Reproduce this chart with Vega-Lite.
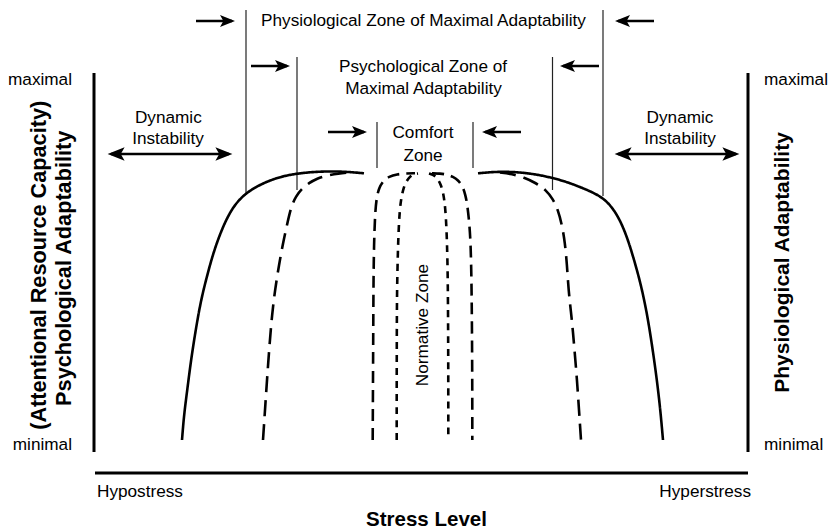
{
  "$schema": "https://vega.github.io/schema/vega-lite/v6.json",
  "width": 829,
  "height": 528,
  "padding": 0,
  "autosize": {"type": "none"},
  "background": "white",
  "config": {"view": {"stroke": null}, "font": "Liberation Sans"},
  "datasets": {
    "frame": [
      {"part": "left axis", "x": 94, "x2": 94, "y": 73, "y2": 452},
      {"part": "right axis", "x": 748, "x2": 748, "y": 73, "y2": 452},
      {"part": "stress axis", "x": 95, "x2": 748, "y": 473, "y2": 473}
    ],
    "zones": [
      {"zone": "physiological", "x": 246, "y": 10, "y2": 195},
      {"zone": "physiological", "x": 603, "y": 10, "y2": 196},
      {"zone": "psychological", "x": 297, "y": 57, "y2": 190},
      {"zone": "psychological", "x": 552.5, "y": 57, "y2": 190},
      {"zone": "comfort", "x": 377, "y": 122, "y2": 168},
      {"zone": "comfort", "x": 473, "y": 122, "y2": 168}
    ],
    "arrows": [
      {"kind": "single", "dir": "right", "x": 196, "x2": 232, "y": 21},
      {"kind": "single", "dir": "left", "x": 654, "x2": 618, "y": 21},
      {"kind": "single", "dir": "right", "x": 251, "x2": 287, "y": 66},
      {"kind": "single", "dir": "left", "x": 599, "x2": 563, "y": 66},
      {"kind": "single", "dir": "right", "x": 328, "x2": 364, "y": 132},
      {"kind": "single", "dir": "left", "x": 521, "x2": 485, "y": 132},
      {"kind": "double", "dir": "left", "x": 170, "x2": 111, "y": 154},
      {"kind": "double", "dir": "right", "x": 170, "x2": 229, "y": 154},
      {"kind": "double", "dir": "left", "x": 677, "x2": 618, "y": 154},
      {"kind": "double", "dir": "right", "x": 677, "x2": 736, "y": 154}
    ],
    "curves": [
      {"curve": "physiological-L", "zone": "physiological", "order": 1, "x": 182, "y": 440},
      {"curve": "physiological-L", "zone": "physiological", "order": 2, "x": 184, "y": 415},
      {"curve": "physiological-L", "zone": "physiological", "order": 3, "x": 187, "y": 392},
      {"curve": "physiological-L", "zone": "physiological", "order": 4, "x": 191, "y": 360},
      {"curve": "physiological-L", "zone": "physiological", "order": 5, "x": 196, "y": 328},
      {"curve": "physiological-L", "zone": "physiological", "order": 6, "x": 201, "y": 300},
      {"curve": "physiological-L", "zone": "physiological", "order": 7, "x": 207, "y": 276},
      {"curve": "physiological-L", "zone": "physiological", "order": 8, "x": 213, "y": 254},
      {"curve": "physiological-L", "zone": "physiological", "order": 9, "x": 220, "y": 234},
      {"curve": "physiological-L", "zone": "physiological", "order": 10, "x": 227, "y": 218},
      {"curve": "physiological-L", "zone": "physiological", "order": 11, "x": 234, "y": 206},
      {"curve": "physiological-L", "zone": "physiological", "order": 12, "x": 241, "y": 198},
      {"curve": "physiological-L", "zone": "physiological", "order": 13, "x": 248, "y": 192},
      {"curve": "physiological-L", "zone": "physiological", "order": 14, "x": 256, "y": 187},
      {"curve": "physiological-L", "zone": "physiological", "order": 15, "x": 265, "y": 182.5},
      {"curve": "physiological-L", "zone": "physiological", "order": 16, "x": 274, "y": 179},
      {"curve": "physiological-L", "zone": "physiological", "order": 17, "x": 284, "y": 176},
      {"curve": "physiological-L", "zone": "physiological", "order": 18, "x": 297, "y": 173.5},
      {"curve": "physiological-L", "zone": "physiological", "order": 19, "x": 315, "y": 171.8},
      {"curve": "physiological-L", "zone": "physiological", "order": 20, "x": 330, "y": 171.3},
      {"curve": "physiological-L", "zone": "physiological", "order": 21, "x": 348, "y": 171.8},
      {"curve": "physiological-L", "zone": "physiological", "order": 22, "x": 364, "y": 173.3},

      {"curve": "physiological-R", "zone": "physiological", "order": 1, "x": 478, "y": 173.3},
      {"curve": "physiological-R", "zone": "physiological", "order": 2, "x": 492, "y": 172},
      {"curve": "physiological-R", "zone": "physiological", "order": 3, "x": 505, "y": 171.7},
      {"curve": "physiological-R", "zone": "physiological", "order": 4, "x": 520, "y": 172.3},
      {"curve": "physiological-R", "zone": "physiological", "order": 5, "x": 537, "y": 174.5},
      {"curve": "physiological-R", "zone": "physiological", "order": 6, "x": 553, "y": 178},
      {"curve": "physiological-R", "zone": "physiological", "order": 7, "x": 567, "y": 182},
      {"curve": "physiological-R", "zone": "physiological", "order": 8, "x": 580, "y": 187},
      {"curve": "physiological-R", "zone": "physiological", "order": 9, "x": 592, "y": 192},
      {"curve": "physiological-R", "zone": "physiological", "order": 10, "x": 603, "y": 198},
      {"curve": "physiological-R", "zone": "physiological", "order": 11, "x": 612, "y": 207},
      {"curve": "physiological-R", "zone": "physiological", "order": 12, "x": 620, "y": 220},
      {"curve": "physiological-R", "zone": "physiological", "order": 13, "x": 627, "y": 237},
      {"curve": "physiological-R", "zone": "physiological", "order": 14, "x": 633, "y": 256},
      {"curve": "physiological-R", "zone": "physiological", "order": 15, "x": 640, "y": 281},
      {"curve": "physiological-R", "zone": "physiological", "order": 16, "x": 646, "y": 308},
      {"curve": "physiological-R", "zone": "physiological", "order": 17, "x": 651, "y": 338},
      {"curve": "physiological-R", "zone": "physiological", "order": 18, "x": 656, "y": 373},
      {"curve": "physiological-R", "zone": "physiological", "order": 19, "x": 660, "y": 406},
      {"curve": "physiological-R", "zone": "physiological", "order": 20, "x": 663, "y": 440},

      {"curve": "psychological-L", "zone": "psychological", "order": 1, "x": 263, "y": 440},
      {"curve": "psychological-L", "zone": "psychological", "order": 2, "x": 265, "y": 410},
      {"curve": "psychological-L", "zone": "psychological", "order": 3, "x": 267, "y": 380},
      {"curve": "psychological-L", "zone": "psychological", "order": 4, "x": 269.5, "y": 345},
      {"curve": "psychological-L", "zone": "psychological", "order": 5, "x": 272, "y": 315},
      {"curve": "psychological-L", "zone": "psychological", "order": 6, "x": 275, "y": 290},
      {"curve": "psychological-L", "zone": "psychological", "order": 7, "x": 279, "y": 265},
      {"curve": "psychological-L", "zone": "psychological", "order": 8, "x": 283, "y": 243},
      {"curve": "psychological-L", "zone": "psychological", "order": 9, "x": 287, "y": 225},
      {"curve": "psychological-L", "zone": "psychological", "order": 10, "x": 291, "y": 207},
      {"curve": "psychological-L", "zone": "psychological", "order": 11, "x": 296, "y": 196},
      {"curve": "psychological-L", "zone": "psychological", "order": 12, "x": 302, "y": 188.5},
      {"curve": "psychological-L", "zone": "psychological", "order": 13, "x": 309, "y": 183},
      {"curve": "psychological-L", "zone": "psychological", "order": 14, "x": 317, "y": 178.5},
      {"curve": "psychological-L", "zone": "psychological", "order": 15, "x": 327, "y": 175.5},
      {"curve": "psychological-L", "zone": "psychological", "order": 16, "x": 338, "y": 173.5},
      {"curve": "psychological-L", "zone": "psychological", "order": 17, "x": 350, "y": 172.5},

      {"curve": "psychological-R", "zone": "psychological", "order": 1, "x": 500, "y": 172.5},
      {"curve": "psychological-R", "zone": "psychological", "order": 2, "x": 512, "y": 174},
      {"curve": "psychological-R", "zone": "psychological", "order": 3, "x": 524, "y": 177.5},
      {"curve": "psychological-R", "zone": "psychological", "order": 4, "x": 536, "y": 183},
      {"curve": "psychological-R", "zone": "psychological", "order": 5, "x": 546, "y": 190},
      {"curve": "psychological-R", "zone": "psychological", "order": 6, "x": 553, "y": 199},
      {"curve": "psychological-R", "zone": "psychological", "order": 7, "x": 558, "y": 210},
      {"curve": "psychological-R", "zone": "psychological", "order": 8, "x": 562, "y": 225},
      {"curve": "psychological-R", "zone": "psychological", "order": 9, "x": 565, "y": 243},
      {"curve": "psychological-R", "zone": "psychological", "order": 10, "x": 567, "y": 265},
      {"curve": "psychological-R", "zone": "psychological", "order": 11, "x": 568.5, "y": 290},
      {"curve": "psychological-R", "zone": "psychological", "order": 12, "x": 571, "y": 312},
      {"curve": "psychological-R", "zone": "psychological", "order": 13, "x": 573, "y": 332},
      {"curve": "psychological-R", "zone": "psychological", "order": 14, "x": 575, "y": 356},
      {"curve": "psychological-R", "zone": "psychological", "order": 15, "x": 577, "y": 380},
      {"curve": "psychological-R", "zone": "psychological", "order": 16, "x": 579, "y": 410},
      {"curve": "psychological-R", "zone": "psychological", "order": 17, "x": 581, "y": 440},

      {"curve": "comfort-L", "zone": "comfort", "order": 1, "x": 372.7, "y": 440},
      {"curve": "comfort-L", "zone": "comfort", "order": 2, "x": 373, "y": 380},
      {"curve": "comfort-L", "zone": "comfort", "order": 3, "x": 373.3, "y": 320},
      {"curve": "comfort-L", "zone": "comfort", "order": 4, "x": 373.5, "y": 280},
      {"curve": "comfort-L", "zone": "comfort", "order": 5, "x": 374, "y": 245},
      {"curve": "comfort-L", "zone": "comfort", "order": 6, "x": 375, "y": 215},
      {"curve": "comfort-L", "zone": "comfort", "order": 7, "x": 376.5, "y": 198},
      {"curve": "comfort-L", "zone": "comfort", "order": 8, "x": 379, "y": 188},
      {"curve": "comfort-L", "zone": "comfort", "order": 9, "x": 383, "y": 181},
      {"curve": "comfort-L", "zone": "comfort", "order": 10, "x": 389, "y": 176.5},
      {"curve": "comfort-L", "zone": "comfort", "order": 11, "x": 397, "y": 174.2},
      {"curve": "comfort-L", "zone": "comfort", "order": 12, "x": 406, "y": 173.4},
      {"curve": "comfort-L", "zone": "comfort", "order": 13, "x": 415, "y": 173.3},

      {"curve": "comfort-R", "zone": "comfort", "order": 1, "x": 432, "y": 173.3},
      {"curve": "comfort-R", "zone": "comfort", "order": 2, "x": 440, "y": 173.5},
      {"curve": "comfort-R", "zone": "comfort", "order": 3, "x": 447, "y": 174.5},
      {"curve": "comfort-R", "zone": "comfort", "order": 4, "x": 453, "y": 176.7},
      {"curve": "comfort-R", "zone": "comfort", "order": 5, "x": 458, "y": 180},
      {"curve": "comfort-R", "zone": "comfort", "order": 6, "x": 462.5, "y": 186},
      {"curve": "comfort-R", "zone": "comfort", "order": 7, "x": 465.5, "y": 195},
      {"curve": "comfort-R", "zone": "comfort", "order": 8, "x": 467.5, "y": 206},
      {"curve": "comfort-R", "zone": "comfort", "order": 9, "x": 469.5, "y": 225},
      {"curve": "comfort-R", "zone": "comfort", "order": 10, "x": 470.7, "y": 245},
      {"curve": "comfort-R", "zone": "comfort", "order": 11, "x": 471.5, "y": 280},
      {"curve": "comfort-R", "zone": "comfort", "order": 12, "x": 472, "y": 330},
      {"curve": "comfort-R", "zone": "comfort", "order": 13, "x": 472.3, "y": 390},
      {"curve": "comfort-R", "zone": "comfort", "order": 14, "x": 472.3, "y": 440},

      {"curve": "normative-L", "zone": "normative", "order": 1, "x": 396.7, "y": 440},
      {"curve": "normative-L", "zone": "normative", "order": 2, "x": 396.7, "y": 390},
      {"curve": "normative-L", "zone": "normative", "order": 3, "x": 396.8, "y": 330},
      {"curve": "normative-L", "zone": "normative", "order": 4, "x": 397, "y": 290},
      {"curve": "normative-L", "zone": "normative", "order": 5, "x": 398, "y": 245},
      {"curve": "normative-L", "zone": "normative", "order": 6, "x": 399.3, "y": 215},
      {"curve": "normative-L", "zone": "normative", "order": 7, "x": 401, "y": 199},
      {"curve": "normative-L", "zone": "normative", "order": 8, "x": 403.5, "y": 188},
      {"curve": "normative-L", "zone": "normative", "order": 9, "x": 406.5, "y": 181},
      {"curve": "normative-L", "zone": "normative", "order": 10, "x": 410, "y": 176.5},
      {"curve": "normative-L", "zone": "normative", "order": 11, "x": 413.5, "y": 174.3},
      {"curve": "normative-L", "zone": "normative", "order": 12, "x": 418, "y": 173.5},

      {"curve": "normative-R", "zone": "normative", "order": 1, "x": 429, "y": 173.5},
      {"curve": "normative-R", "zone": "normative", "order": 2, "x": 434, "y": 175},
      {"curve": "normative-R", "zone": "normative", "order": 3, "x": 438, "y": 179},
      {"curve": "normative-R", "zone": "normative", "order": 4, "x": 441, "y": 185},
      {"curve": "normative-R", "zone": "normative", "order": 5, "x": 443.5, "y": 194},
      {"curve": "normative-R", "zone": "normative", "order": 6, "x": 445.2, "y": 207},
      {"curve": "normative-R", "zone": "normative", "order": 7, "x": 446.5, "y": 227},
      {"curve": "normative-R", "zone": "normative", "order": 8, "x": 447.5, "y": 260},
      {"curve": "normative-R", "zone": "normative", "order": 9, "x": 448, "y": 300},
      {"curve": "normative-R", "zone": "normative", "order": 10, "x": 448.3, "y": 370},
      {"curve": "normative-R", "zone": "normative", "order": 11, "x": 448.3, "y": 440}
    ],
    "labels": [
      {"role": "center", "text": "Physiological Zone of Maximal Adaptability", "x": 423.5, "y": 25.5},
      {"role": "center", "text": "Psychological Zone of", "x": 423, "y": 72.3},
      {"role": "center", "text": "Maximal Adaptability", "x": 423.5, "y": 93.5},
      {"role": "center", "text": "Comfort", "x": 423, "y": 138.3},
      {"role": "center", "text": "Zone", "x": 423, "y": 160.5},
      {"role": "center", "text": "Dynamic", "x": 168.3, "y": 122.7},
      {"role": "center", "text": "Instability", "x": 168, "y": 144},
      {"role": "center", "text": "Dynamic", "x": 680, "y": 122.7},
      {"role": "center", "text": "Instability", "x": 680, "y": 144},
      {"role": "right", "text": "maximal", "x": 72, "y": 85},
      {"role": "right", "text": "minimal", "x": 72, "y": 450},
      {"role": "right", "text": "Hyperstress", "x": 751, "y": 497.3},
      {"role": "left", "text": "maximal", "x": 764, "y": 85},
      {"role": "left", "text": "minimal", "x": 764, "y": 450},
      {"role": "left", "text": "Hypostress", "x": 97, "y": 497.3},
      {"role": "vertical", "text": "Normative Zone", "x": 423, "y": 325},
      {"role": "title-left", "text": "(Attentional Resource Capacity)", "x": 45.5, "y": 265.3},
      {"role": "title-left", "text": "Psychological Adaptability", "x": 70.5, "y": 268.3},
      {"role": "title-right", "text": "Physiological Adaptability", "x": 788.6, "y": 262.5},
      {"role": "title-bottom", "text": "Stress Level", "x": 426.5, "y": 525.5}
    ]
  },
  "layer": [
    {
      "data": {"name": "frame"},
      "mark": {"type": "rule", "strokeWidth": 3, "color": "black"},
      "encoding": {
        "x": {"field": "x", "type": "quantitative", "scale": {"domain": [0, 829]}, "axis": null},
        "x2": {"field": "x2"},
        "y": {"field": "y", "type": "quantitative", "scale": {"domain": [0, 528], "reverse": true}, "axis": null},
        "y2": {"field": "y2"}
      }
    },
    {
      "data": {"name": "zones"},
      "mark": {"type": "rule", "strokeWidth": 1.2, "color": "#222"},
      "encoding": {
        "x": {"field": "x", "type": "quantitative", "scale": {"domain": [0, 829]}, "axis": null},
        "y": {"field": "y", "type": "quantitative", "scale": {"domain": [0, 528], "reverse": true}, "axis": null},
        "y2": {"field": "y2"}
      }
    },
    {
      "data": {"name": "curves"},
      "mark": {"type": "line", "interpolate": "basis", "strokeWidth": 2.6, "color": "black"},
      "encoding": {
        "x": {"field": "x", "type": "quantitative", "scale": {"domain": [0, 829]}, "axis": null},
        "y": {"field": "y", "type": "quantitative", "scale": {"domain": [0, 528], "reverse": true}, "axis": null},
        "order": {"field": "order", "type": "quantitative"},
        "detail": {"field": "curve", "type": "nominal"},
        "strokeDash": {
          "field": "zone", "type": "nominal", "legend": null,
          "scale": {"domain": ["physiological", "psychological", "comfort", "normative"], "range": [[1, 0], [16, 8], [12, 7], [7, 6]]}
        }
      }
    },
    {
      "data": {"name": "arrows"},
      "mark": {"type": "rule", "strokeWidth": 2.6, "color": "black"},
      "encoding": {
        "x": {"field": "x", "type": "quantitative", "scale": {"domain": [0, 829]}, "axis": null},
        "x2": {"field": "x2"},
        "y": {"field": "y", "type": "quantitative", "scale": {"domain": [0, 528], "reverse": true}, "axis": null}
      }
    },
    {
      "data": {"name": "arrows"},
      "mark": {"type": "point", "filled": true, "opacity": 1, "strokeWidth": 0, "color": "black"},
      "encoding": {
        "x": {"field": "x2", "type": "quantitative", "scale": {"domain": [0, 829]}, "axis": null},
        "y": {"field": "y", "type": "quantitative", "scale": {"domain": [0, 528], "reverse": true}, "axis": null},
        "shape": {
          "field": "dir", "type": "nominal", "legend": null,
          "scale": {"domain": ["right", "left"], "range": ["M0.4,0L-1.6,-0.8L-1.15,0L-1.6,0.8Z", "M-0.4,0L1.6,-0.8L1.15,0L1.6,0.8Z"]}
        },
        "size": {
          "field": "kind", "type": "nominal", "legend": null,
          "scale": {"domain": ["single", "double"], "range": [225, 289]}
        }
      }
    },
    {
      "data": {"name": "labels"},
      "transform": [{"filter": "datum.role === 'center'"}],
      "mark": {"type": "text", "fontSize": 17.2, "align": "center", "baseline": "alphabetic", "color": "black"},
      "encoding": {
        "x": {"field": "x", "type": "quantitative", "scale": {"domain": [0, 829]}, "axis": null},
        "y": {"field": "y", "type": "quantitative", "scale": {"domain": [0, 528], "reverse": true}, "axis": null},
        "text": {"field": "text"}
      }
    },
    {
      "data": {"name": "labels"},
      "transform": [{"filter": "datum.role === 'right'"}],
      "mark": {"type": "text", "fontSize": 17.2, "align": "right", "baseline": "alphabetic", "color": "black"},
      "encoding": {
        "x": {"field": "x", "type": "quantitative", "scale": {"domain": [0, 829]}, "axis": null},
        "y": {"field": "y", "type": "quantitative", "scale": {"domain": [0, 528], "reverse": true}, "axis": null},
        "text": {"field": "text"}
      }
    },
    {
      "data": {"name": "labels"},
      "transform": [{"filter": "datum.role === 'left'"}],
      "mark": {"type": "text", "fontSize": 17.2, "align": "left", "baseline": "alphabetic", "color": "black"},
      "encoding": {
        "x": {"field": "x", "type": "quantitative", "scale": {"domain": [0, 829]}, "axis": null},
        "y": {"field": "y", "type": "quantitative", "scale": {"domain": [0, 528], "reverse": true}, "axis": null},
        "text": {"field": "text"}
      }
    },
    {
      "data": {"name": "labels"},
      "transform": [{"filter": "datum.role === 'vertical'"}],
      "mark": {"type": "text", "fontSize": 17.2, "align": "center", "baseline": "middle", "angle": 270, "color": "black"},
      "encoding": {
        "x": {"field": "x", "type": "quantitative", "scale": {"domain": [0, 829]}, "axis": null},
        "y": {"field": "y", "type": "quantitative", "scale": {"domain": [0, 528], "reverse": true}, "axis": null},
        "text": {"field": "text"}
      }
    },
    {
      "data": {"name": "labels"},
      "transform": [{"filter": "datum.role === 'title-left'"}],
      "mark": {"type": "text", "fontSize": 21.7, "fontWeight": "bold", "align": "center", "baseline": "alphabetic", "angle": 270, "color": "black"},
      "encoding": {
        "x": {"field": "x", "type": "quantitative", "scale": {"domain": [0, 829]}, "axis": null},
        "y": {"field": "y", "type": "quantitative", "scale": {"domain": [0, 528], "reverse": true}, "axis": null},
        "text": {"field": "text"}
      }
    },
    {
      "data": {"name": "labels"},
      "transform": [{"filter": "datum.role === 'title-right'"}],
      "mark": {"type": "text", "fontSize": 21, "fontWeight": "bold", "align": "center", "baseline": "alphabetic", "angle": 270, "color": "black"},
      "encoding": {
        "x": {"field": "x", "type": "quantitative", "scale": {"domain": [0, 829]}, "axis": null},
        "y": {"field": "y", "type": "quantitative", "scale": {"domain": [0, 528], "reverse": true}, "axis": null},
        "text": {"field": "text"}
      }
    },
    {
      "data": {"name": "labels"},
      "transform": [{"filter": "datum.role === 'title-bottom'"}],
      "mark": {"type": "text", "fontSize": 20.5, "fontWeight": "bold", "align": "center", "baseline": "alphabetic", "color": "black"},
      "encoding": {
        "x": {"field": "x", "type": "quantitative", "scale": {"domain": [0, 829]}, "axis": null},
        "y": {"field": "y", "type": "quantitative", "scale": {"domain": [0, 528], "reverse": true}, "axis": null},
        "text": {"field": "text"}
      }
    }
  ]
}
